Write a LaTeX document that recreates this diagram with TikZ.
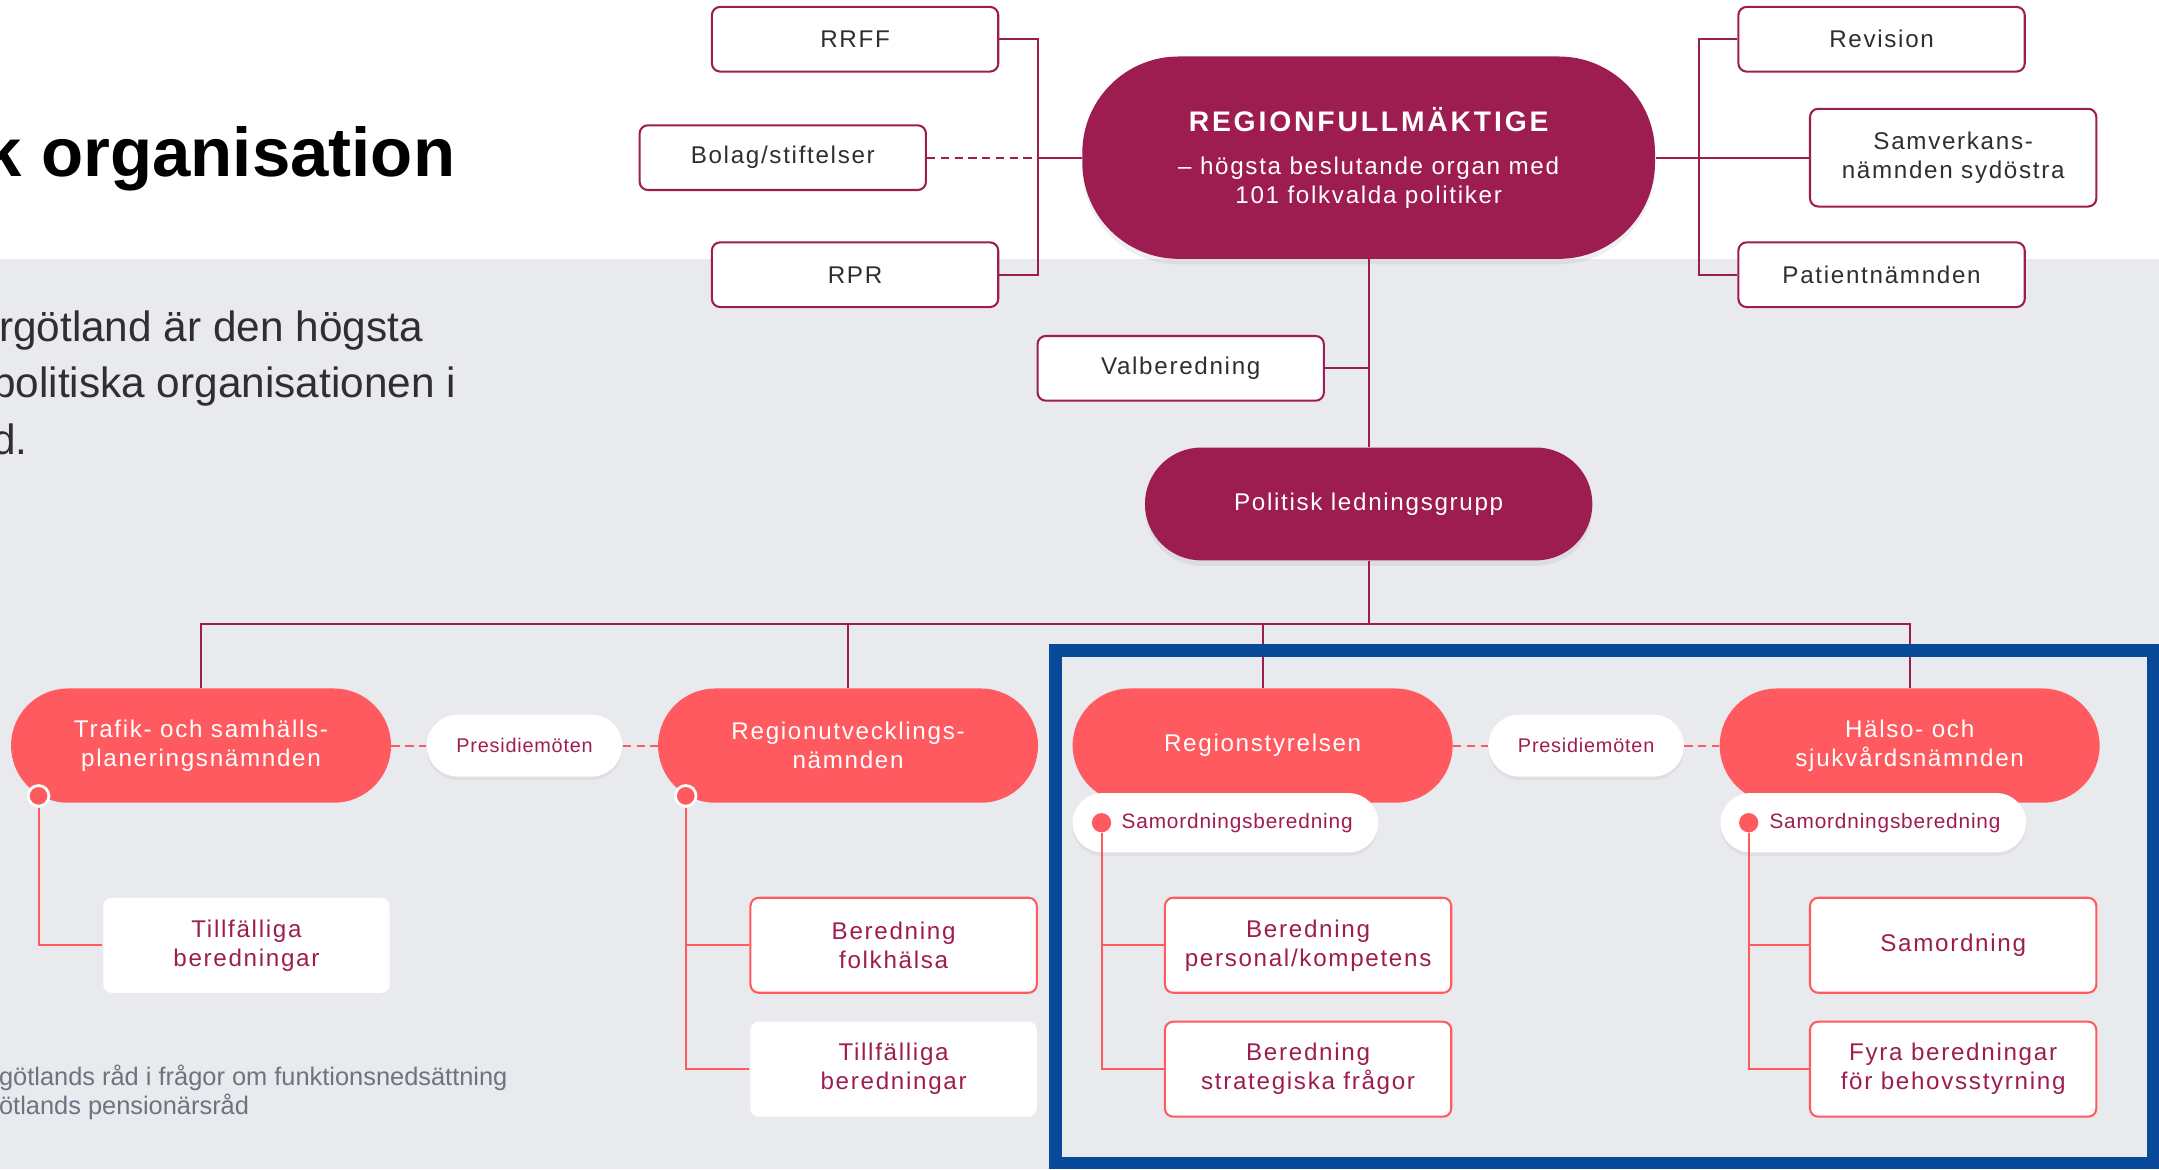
\documentclass[tikz,border=0pt]{standalone}
\usepackage{fontspec}
\setmainfont{Liberation Sans}
\newfontfamily\spacedfont[LetterSpace=7]{Liberation Sans}
\newfontfamily\pillfont[LetterSpace=4]{Liberation Sans}
\newfontfamily\capsfont[LetterSpace=10]{Liberation Sans}
\usepackage{tikz}
\usetikzlibrary{shadows}

\definecolor{plum}{HTML}{9E1D50}
\definecolor{coral}{HTML}{FF5A5F}
\definecolor{paper}{HTML}{E9EAEE}
\definecolor{frameblue}{HTML}{084A99}
\definecolor{ink}{HTML}{2E2E33}
\definecolor{note}{HTML}{6E7382}

\begin{document}
\begin{tikzpicture}[x=0.02cm, y=-0.02cm, node distance=4.7cm,
  topbox/.style={draw=plum, line width=0.03cm, fill=white, rounded corners=0.12cm,
    minimum width=4.16cm, minimum height=0.94cm, inner sep=0, align=center,
    text=ink, font=\spacedfont\fontsize{10}{12}\selectfont},
  council/.style={fill=plum, text=white, inner sep=0, align=center,
    font=\spacedfont\fontsize{10}{12}\selectfont,
    drop shadow={opacity=0.12, shadow xshift=0pt, shadow yshift=-0.08cm}},
  board/.style={fill=coral, text=white, rounded corners=0.83cm, inner sep=0,
    minimum width=5.52cm, minimum height=1.66cm, align=center,
    font=\spacedfont\fontsize{10}{12}\selectfont},
  pill/.style={fill=white, text=plum, rounded corners=0.45cm, inner sep=0,
    minimum width=2.84cm, minimum height=0.9cm,
    font=\pillfont\fontsize{8.2}{10}\selectfont,
    drop shadow={opacity=0.1, shadow xshift=0pt, shadow yshift=-0.05cm}},
  subbox/.style={draw=coral, line width=0.03cm, fill=white, rounded corners=0.12cm,
    minimum width=4.16cm, minimum height=1.38cm, inner sep=0, align=center,
    text=plum, font=\spacedfont\fontsize{10}{12}\selectfont},
  plainbox/.style={subbox, draw=none},
  dot/.style={circle, fill=coral, inner sep=0, minimum size=0.28cm},
  ringdot/.style={dot, draw=white, line width=0.04cm, minimum size=0.3cm},
  topline/.style={draw=plum, line width=0.03cm},
  lowline/.style={draw=coral, line width=0.03cm}]

% background
\useasboundingbox (0,0) rectangle (1568,849);
\fill[white] (0,0) rectangle (1568,188);
\fill[paper] (0,188) rectangle (1568,849);

% texts on the left
\node (TITLE) [anchor=base west, inner sep=0, font=\bfseries\fontsize{28.5}{34}\selectfont] at (-12,128) {k organisation};
\node (INTRO) [anchor=west, inner sep=0, align=left, text=ink, font=\fontsize{17.5}{23.3}\selectfont] at (-1,278)
  {rgötland är den högsta\\\hspace*{-2.8pt}politiska organisationen i\\\hspace*{-2.8pt}d.};
\node (NOTE) [anchor=west, inner sep=0, align=left, text=note, font=\fontsize{10.5}{12}\selectfont] at (-1,793.5)
  {götlands råd i frågor om funktionsnedsättning\\ötlands pensionärsråd};

% nodes
\node (RF) [council, rounded corners=1.4cm, minimum width=8.32cm, minimum height=2.94cm] at (994,114.5)
  {{\capsfont\bfseries\fontsize{11.7}{14}\selectfont REGIONFULLMÄKTIGE}\\[5.6pt]
   – högsta beslutande organ med\\101 folkvalda politiker};
\node (RRFF) [topbox] at (621,28.5) {RRFF};
\node (BS) [topbox] at (568.5,114.5) {Bolag/stiftelser};
\node (RPR) [topbox] at (621,199.5) {RPR};
\node (REV) [topbox] at (1366.5,28.5) {Revision};
\node (SN) [topbox, minimum height=1.42cm] at (1418.5,114.5) {Samverkans-\\nämnden sydöstra};
\node (PN) [topbox] at (1366.5,199.5) {Patientnämnden};
\node (VB) [topbox] at (857.5,267.5) {Valberedning};
\node (PL) [council, rounded corners=0.82cm, minimum width=6.5cm, minimum height=1.64cm] at (994,366) {Politisk ledningsgrupp};

\node (TN) [board] at (146,541.5) {Trafik- och samhälls-\\planeringsnämnden};
\node (P1) [pill, right of=TN] {Presidiemöten};
\node (RN) [board, right of=P1] {Regionutvecklings-\\nämnden};
\node (RS) [board] at (917,541.5) {Regionstyrelsen};
\node (P2) [pill, right of=RS] {Presidiemöten};
\node (HS) [board, right of=P2] {Hälso- och\\sjukvårdsnämnden};

\node (SB1) [pill, rounded corners=0.43cm, minimum width=4.44cm, minimum height=0.86cm, font=\pillfont\fontsize{8.6}{10}\selectfont] at (890,597.5) {\hspace{0.34cm}Samordningsberedning};
\node (SB2) [pill, rounded corners=0.43cm, minimum width=4.44cm, minimum height=0.86cm, font=\pillfont\fontsize{8.6}{10}\selectfont] at (1360.5,597.5) {\hspace{0.34cm}Samordningsberedning};

\node (D1) [ringdot] at (28,578) {};
\node (D2) [ringdot] at (498,578) {};
\node (D3) [dot] at (800,597.5) {};
\node (D4) [dot] at (1270,597.5) {};

\node (T1) [plainbox] at (179,686.5) {Tillfälliga\\beredningar};
\node (BF) [subbox] at (649,686.5) {Beredning\\folkhälsa};
\node (T2) [plainbox] at (649,776.5) {Tillfälliga\\beredningar};
\node (BP) [subbox] at (950,686.5) {Beredning\\personal/kompetens};
\node (BSF) [subbox] at (950,776.5) {Beredning\\strategiska frågor};
\node (SA) [subbox] at (1418.5,686.5) {Samordning};
\node (FB) [subbox] at (1418.5,776.5) {Fyra beredningar\\för behovsstyrning};

% connectors
\coordinate (L) at (754,114.5);
\coordinate (R) at (1234,114.5);
\coordinate (BUS) at (994,453);
\draw[topline] (RRFF) -| (L) |- (RPR);
\draw[topline] (L) -- (RF);
\draw[topline, dash pattern=on 0.12cm off 0.08cm] (BS) -- (L);
\draw[topline] (REV) -| (R) |- (PN);
\draw[topline] (RF) -- (SN);
\draw[topline] (RF) -- (PL);
\draw[topline] (VB.east) -- (VB.east -| RF.south);
\draw[topline] (PL) -- (BUS);
\draw[topline] (TN) |- (BUS) -| (HS);
\draw[topline] (RN) -- (RN |- BUS);
\draw[topline] (RS) -- (RS |- BUS);

\draw[lowline, dash pattern=on 0.12cm off 0.08cm] (TN) -- (P1) -- (RN);
\draw[lowline, dash pattern=on 0.12cm off 0.08cm] (RS) -- (P2) -- (HS);

\draw[lowline] (D1) |- (T1);
\draw[lowline] (D2) |- (BF);
\draw[lowline] (D2) |- (T2);
\draw[lowline] (D3) |- (BP);
\draw[lowline] (D3) |- (BSF);
\draw[lowline] (D4) |- (SA);
\draw[lowline] (D4) |- (FB);

% frame
\draw[frameblue, line width=0.18cm] (766.5,472.5) rectangle (1563.5,844.5);

\end{tikzpicture}
\end{document}
